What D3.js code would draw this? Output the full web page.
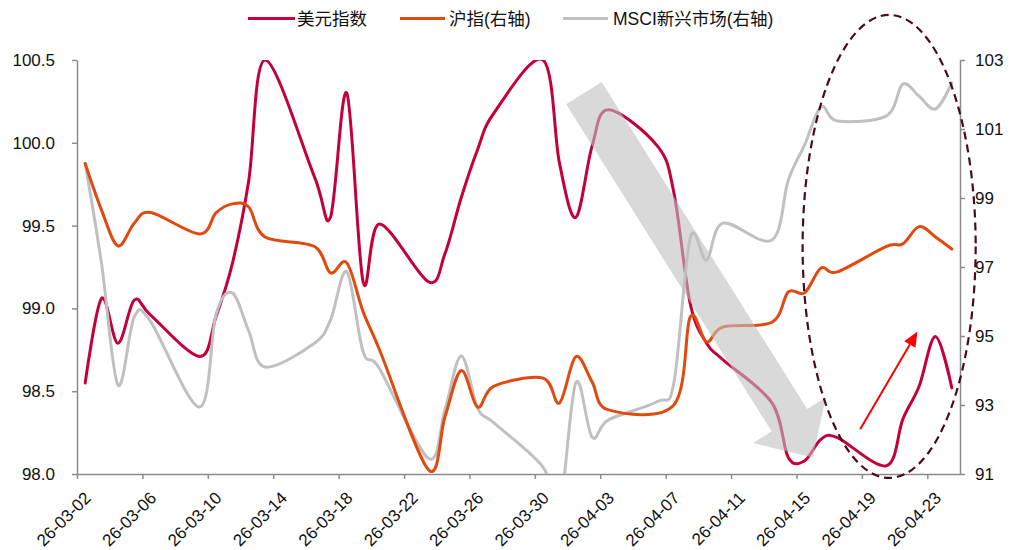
<!DOCTYPE html>
<html><head><meta charset="utf-8">
<script src="https://cdn.jsdelivr.net/npm/d3@7"></script>
<style>
body{margin:0;background:#fff;}
svg text{font-family:"Liberation Sans","Noto Sans CJK SC",Arial,sans-serif;fill:#111;}
</style></head><body>
<svg id="c" width="1016" height="550"></svg>
<script>
// ---------------- data ----------------
const days = ["2026-03-02","2026-03-03","2026-03-04","2026-03-05","2026-03-06",
  "2026-03-09","2026-03-10","2026-03-11","2026-03-12","2026-03-13",
  "2026-03-16","2026-03-17","2026-03-18","2026-03-19","2026-03-20",
  "2026-03-23","2026-03-24","2026-03-25","2026-03-26","2026-03-27",
  "2026-03-30","2026-03-31","2026-04-01","2026-04-02","2026-04-03",
  "2026-04-06","2026-04-07","2026-04-08","2026-04-09","2026-04-10",
  "2026-04-13","2026-04-14","2026-04-15","2026-04-16","2026-04-17",
  "2026-04-20","2026-04-21","2026-04-22","2026-04-23","2026-04-24"];
// 美元指数 (left axis)
const usdIndex = [98.55,99.06,98.79,99.05,98.96,
  98.71,98.95,99.27,99.77,100.50,
  99.80,99.55,100.30,99.16,99.51,
  99.16,99.33,99.67,99.96,100.18,
  100.50,99.88,99.55,99.98,100.20,
  99.98,99.70,99.03,98.79,98.69,
  98.43,98.10,98.08,98.21,98.22,
  98.05,98.33,98.53,98.83,98.52];
// 沪指 (right axis), null = market closed
const shIndex = [100.0,98.65,97.61,98.27,98.58,
  97.96,98.57,98.83,98.74,97.87,
  97.60,96.83,97.12,95.70,94.60,
  91.12,92.65,94.00,92.94,93.55,
  93.78,93.06,94.40,93.67,92.86,
  null,93.00,95.55,94.83,95.26,
  95.40,96.28,96.25,96.97,96.86,
  97.60,97.67,98.17,97.87,97.52];
// MSCI新兴市场 (right axis)
const msciEM = [100.0,97.10,93.58,95.55,95.42,
  92.94,95.62,96.25,95.15,94.10,
  94.78,95.46,96.86,94.54,94.05,
  91.45,92.86,94.42,92.91,92.48,
  91.20,90.00,93.64,92.07,92.57,
  93.10,93.64,97.84,97.20,98.27,
  97.78,99.52,100.54,101.64,101.23,
  101.38,102.30,101.95,101.58,102.33];
const tickDates = ["2026-03-02","2026-03-06","2026-03-10","2026-03-14","2026-03-18",
  "2026-03-22","2026-03-26","2026-03-30","2026-04-03","2026-04-07","2026-04-11",
  "2026-04-15","2026-04-19","2026-04-23"];
const leftTicks = [98.0,98.5,99.0,99.5,100.0,100.5];
const rightTicks = [91,93,95,97,99,101,103];
const seriesNames = ["美元指数","沪指(右轴)","MSCI新兴市场(右轴)"];
const seriesColors = ["#C4003A","#E2490F","#C0C0C0"];
// annotations (data coordinates)
const trendArrow = {from:["2026-04-02T00:00:00Z",100.30], to:["2026-04-16T00:00:00Z",98.10]};
const reboundArrow = {from:["2026-04-18T21:30:00Z",98.27], to:["2026-04-22T09:30:00Z",98.86]};
const focusEllipse = {center:["2026-04-20T16:00:00Z",99.374], halfDays:5.33, halfValue:1.398};

// ---------------- layout ----------------
const L = 77, R = 960, T = 60, B = 474;
const svg = d3.select("#c");
const parse = d3.utcParse("%Y-%m-%d");
const x = d3.scaleUtc().domain([parse("2026-03-02"), parse("2026-04-25")]).range([L, R]);
const yL = d3.scaleLinear().domain([98, 100.5]).range([B, T]);
const yR = d3.scaleLinear().domain([91, 103]).range([B, T]);
const xc = d => x(d3.utcHour.offset(parse(d), 12)); // centre of day slot

const axisColor = "#8c8c8c";
function styleAxis(g){
  g.selectAll("path,line").attr("stroke", axisColor).attr("stroke-width", 1.5);
  g.selectAll("text").style("font-size","17px").attr("fill","#111");
}
svg.append("g").attr("transform",`translate(${L},0)`)
  .call(d3.axisLeft(yL).tickValues(leftTicks).tickFormat(d3.format(".1f")).tickSize(5).tickSizeOuter(0).tickPadding(17))
  .call(styleAxis);
svg.append("g").attr("transform",`translate(${R},0)`)
  .call(d3.axisRight(yR).tickValues(rightTicks).tickFormat(d3.format("d")).tickSize(5).tickSizeOuter(0).tickPadding(10))
  .call(styleAxis);
const xAxis = svg.append("g").attr("transform",`translate(0,${B})`)
  .call(d3.axisBottom(x).tickValues(tickDates.map(parse)).tickFormat(d3.utcFormat("%y-%m-%d")).tickSize(5).tickSizeOuter(0))
  .call(styleAxis);
xAxis.selectAll(".tick text")
  .attr("text-anchor","end").attr("dy",null).attr("y",null)
  .attr("transform","translate(14.5,25) rotate(-45)");

// ---------------- lines ----------------
svg.append("clipPath").attr("id","plot").append("rect")
  .attr("x",L).attr("y",T).attr("width",R-L).attr("height",B-T);
const plot = svg.append("g").attr("clip-path","url(#plot)");
function drawSeries(vals, yScale, color){
  const pts = days.map((d,i)=>[d,vals[i]]).filter(p=>p[1]!=null);
  const line = d3.line().x(p=>xc(p[0])).y(p=>yScale(p[1])).curve(d3.curveCardinal.tension(0));
  plot.append("path").datum(pts).attr("d",line).attr("fill","none")
    .attr("stroke",color).attr("stroke-width",3).attr("stroke-linejoin","round").attr("stroke-linecap","round");
}
drawSeries(usdIndex, yL, seriesColors[0]);
drawSeries(msciEM, yR, seriesColors[2]);
drawSeries(shIndex, yR, seriesColors[1]);

// ---------------- annotations ----------------
const px = p => [x(new Date(p[0])), yL(p[1])];
{
  const [sx,sy] = px(trendArrow.from), [tx,ty] = px(trendArrow.to);
  const len = Math.hypot(tx-sx, ty-sy), ux=(tx-sx)/len, uy=(ty-sy)/len, nx=-uy, ny=ux;
  const sw=21, hw=43, hl=44;
  const bx=tx-ux*hl, by=ty-uy*hl;
  const poly=[[sx+nx*sw,sy+ny*sw],[bx+nx*sw,by+ny*sw],[bx+nx*hw,by+ny*hw],[tx,ty],
              [bx-nx*hw,by-ny*hw],[bx-nx*sw,by-ny*sw],[sx-nx*sw,sy-ny*sw]];
  svg.append("polygon").attr("points",poly.map(p=>p.join(",")).join(" "))
    .attr("fill","#bfbfbf").attr("fill-opacity",0.6);
}
{
  const [cx,cy] = px(focusEllipse.center);
  const rx = x(d3.utcHour.offset(new Date(focusEllipse.center[0]), focusEllipse.halfDays*24)) - cx;
  const ry = yL(98) - yL(98+focusEllipse.halfValue);
  svg.append("ellipse").attr("cx",cx).attr("cy",cy).attr("rx",rx).attr("ry",ry)
    .attr("fill","none").attr("stroke","#4a0a1c").attr("stroke-width",2.2).attr("stroke-dasharray","8,5");
}
{
  const [sx,sy] = px(reboundArrow.from), [tx,ty] = px(reboundArrow.to);
  const len = Math.hypot(tx-sx, ty-sy), ux=(tx-sx)/len, uy=(ty-sy)/len, nx=-uy, ny=ux;
  const hl=15, hw=6.5, bx=tx-ux*hl, by=ty-uy*hl;
  svg.append("line").attr("x1",sx).attr("y1",sy).attr("x2",bx).attr("y2",by)
    .attr("stroke","#ff0000").attr("stroke-width",2);
  svg.append("polygon").attr("points",[[tx,ty],[bx+nx*hw,by+ny*hw],[bx-nx*hw,by-ny*hw]].map(p=>p.join(",")).join(" "))
    .attr("fill","#ff0000");
}

// ---------------- legend ----------------
const legendX = [[248,295,297],[400,445,449],[563,608,613]];
seriesNames.forEach((n,i)=>{
  const [a,b,t] = legendX[i];
  svg.append("line").attr("x1",a).attr("x2",b).attr("y1",18.5).attr("y2",18.5)
    .attr("stroke",seriesColors[i]).attr("stroke-width",3);
  svg.append("text").attr("x",t).attr("y",18.5).attr("dominant-baseline","central")
    .style("font-size","17.5px").text(n);
});
</script>
</body></html>
